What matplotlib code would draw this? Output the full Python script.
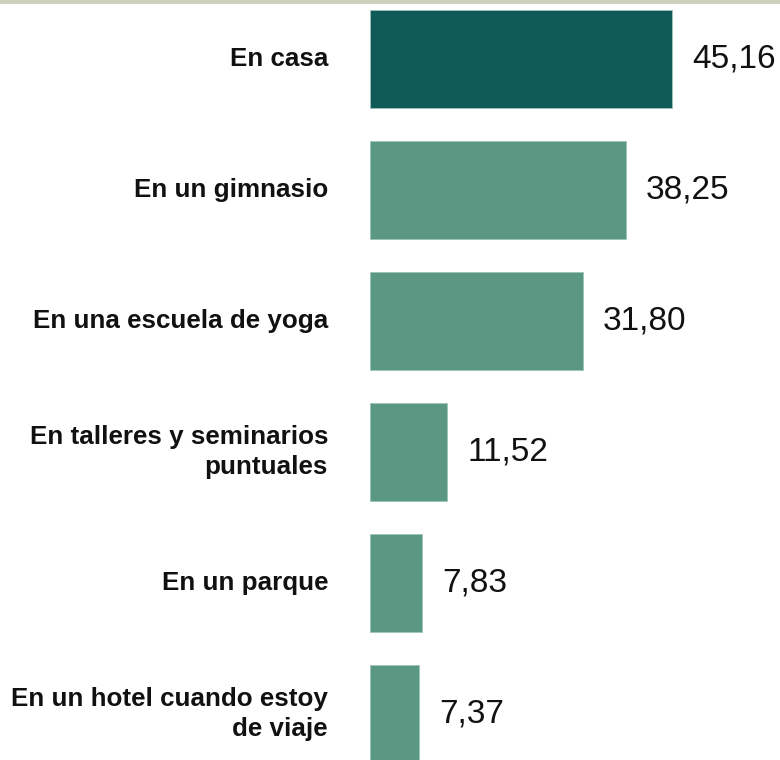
import matplotlib
matplotlib.use("Agg")
import matplotlib.pyplot as plt
from matplotlib.patches import Rectangle

# Where people practise yoga (%)
lugares = ["En casa", "En un gimnasio", "En una escuela de yoga",
           "En talleres y seminarios\npuntuales", "En un parque",
           "En un hotel cuando estoy\nde viaje"]
valores = [45.16, 38.25, 31.80, 11.52, 7.83, 7.37]
etiquetas = ["45,16", "38,25", "31,80", "11,52", "7,83", "7,37"]

oscuro = "#105a58"
claro = "#5a9883"
colores = [oscuro] + [claro] * (len(valores) - 1)

W, H = 780, 760
fig = plt.figure(figsize=(W / 100, H / 100), dpi=100)
x0 = 370 / W
ax = fig.add_axes([x0, 0, 1 - x0, 1])

px_unit = 6.69  # pixels per percent
ax.set_xlim(0, (W - 370) / px_unit)
paso, y_c0 = 131.0, 59.0
ax.set_ylim((H - y_c0) / paso, -y_c0 / paso)

pos = list(range(len(valores)))
ax.barh(pos, valores, height=0.75, color=colores,
        edgecolor="#9cc4bb", linewidth=0.6, clip_on=False)

for i, (v, t) in enumerate(zip(valores, etiquetas)):
    ax.annotate(t, (v, i), xytext=(14.4, 0), textcoords="offset points",
                ha="left", va="center", fontsize=24,
                family="Liberation Sans", color="#111111")

lab_x = -(370 - 328) / px_unit
for i, lab in enumerate(lugares):
    ax.text(lab_x, i, lab, ha="right", va="center", multialignment="right",
            fontsize=18.7, fontweight="bold", family="Liberation Sans",
            color="#111111", linespacing=1.3, clip_on=False)

ax.axis("off")

# thin band along the top edge
fig.add_artist(Rectangle((0, 1 - 3.5 / H), 1, 3.5 / H, transform=fig.transFigure,
                         facecolor="#cfd1bd", edgecolor="none"))

fig.savefig("out.png", dpi=100)
